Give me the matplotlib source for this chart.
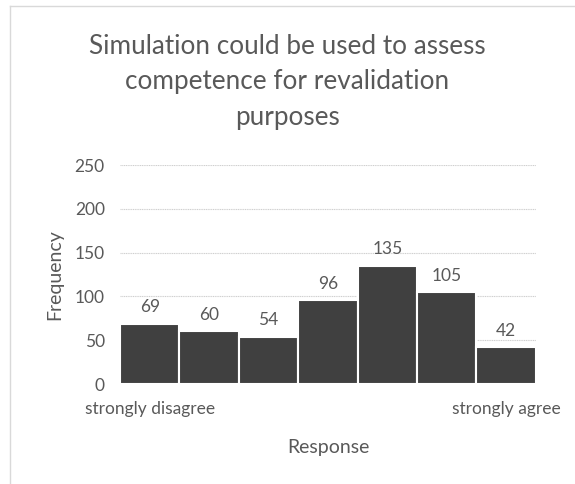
import matplotlib
matplotlib.use("Agg")
import matplotlib.pyplot as plt
from matplotlib.lines import Line2D

# Survey responses (Likert 1-7)
categories = ["strongly disagree", "", "", "", "", "", "strongly agree"]
counts = [69, 60, 54, 96, 135, 105, 42]
yticks = [0, 50, 100, 150, 200, 250]

plt.rcParams["font.family"] = ["Lato", "DejaVu Sans"]
text_grey = "#595959"

fig = plt.figure(figsize=(5.75, 4.84), dpi=100)
ax = fig.add_axes([0.2087, 0.2066, 0.7233, 0.4524])

x = range(len(counts))
ax.bar(x, counts, width=1.0, color="#404040", edgecolor="white", linewidth=1.5, zorder=3)

for xi, v in zip(x, counts):
    ax.annotate(str(v), (xi, v), xytext=(0, 6), textcoords="offset points",
                ha="center", va="bottom", fontsize=12.5, color=text_grey)

ax.set_ylim(0, 250)
ax.set_xlim(-0.5, len(counts) - 0.5)
ax.set_yticks(yticks)
ax.set_xticks(list(x))
ax.set_xticklabels(categories)
ax.tick_params(axis="both", length=0, labelsize=12.5, colors=text_grey)
ax.tick_params(axis="y", pad=11)
ax.tick_params(axis="x", pad=12)
ax.yaxis.grid(True, color="#cfcfcf", linewidth=0.8, linestyle=(0, (1, 0.6)), zorder=0)
for s in ax.spines.values():
    s.set_visible(False)

ax.set_ylabel("Frequency", fontsize=14, color=text_grey, labelpad=8)
ax.set_xlabel("Response", fontsize=14, color=text_grey, labelpad=16)

fig.text(0.5, 1 - 82 / 484, "Simulation could be used to assess\ncompetence for revalidation\npurposes",
         ha="center", va="center", fontsize=18.8, color=text_grey, linespacing=1.55)

# chart area border (left and top edges visible)
fig.add_artist(Line2D([10 / 575, 10 / 575], [0, 1 - 6 / 484], transform=fig.transFigure, color="#d9d9d9", linewidth=1))
fig.add_artist(Line2D([10 / 575, 1], [1 - 6 / 484, 1 - 6 / 484], transform=fig.transFigure, color="#d9d9d9", linewidth=1))

fig.savefig("out.png", dpi=100, facecolor="white")
